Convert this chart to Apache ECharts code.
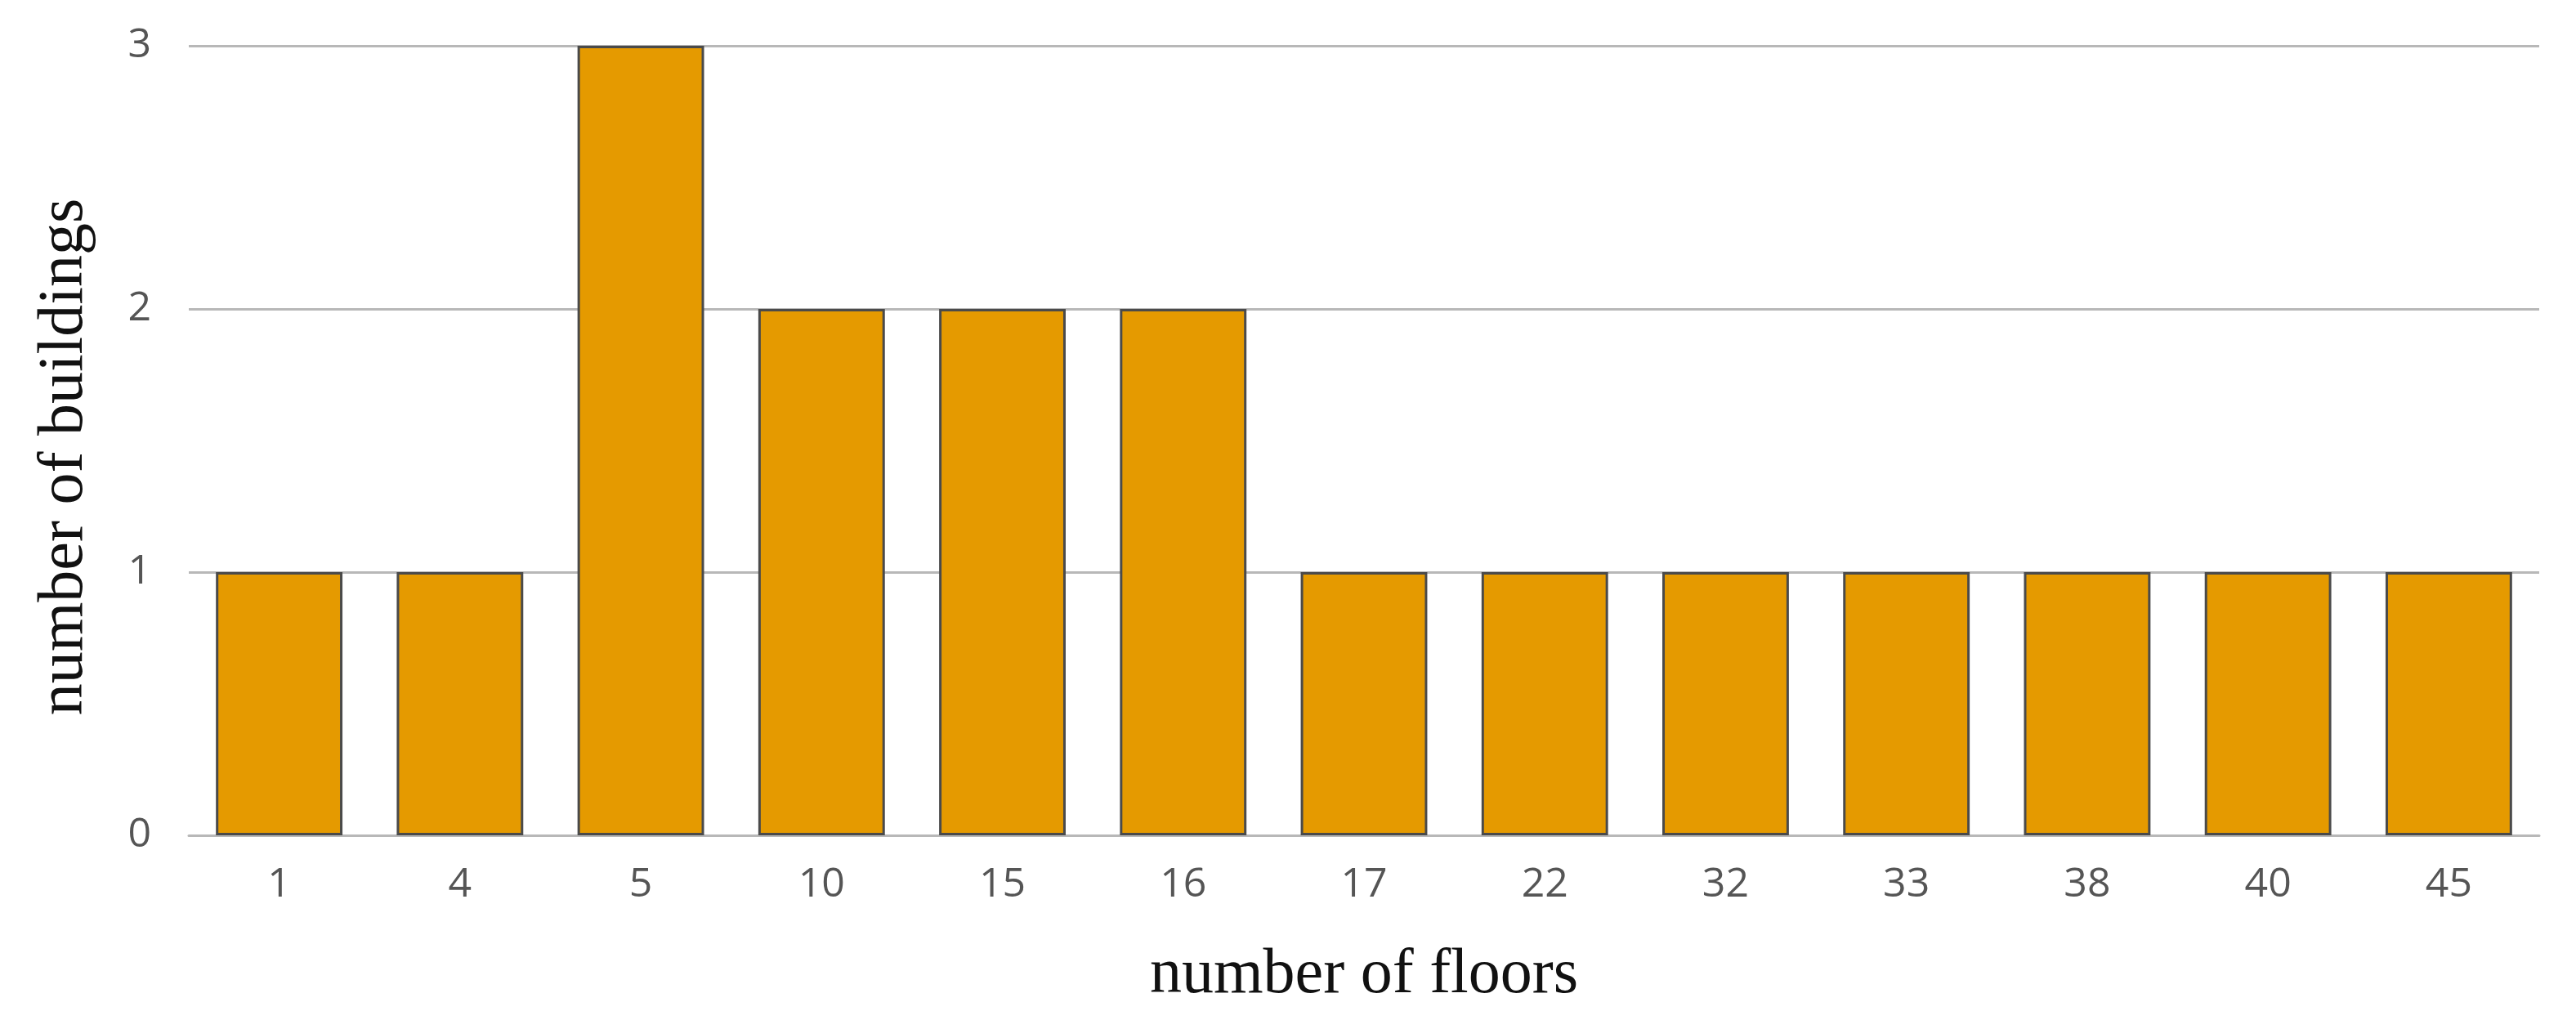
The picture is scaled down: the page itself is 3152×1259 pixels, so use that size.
<!DOCTYPE html>
<html>
<head>
<meta charset="utf-8">
<script src="https://cdn.jsdelivr.net/npm/echarts@6/dist/echarts.min.js"></script>
<style>
  html, body { margin: 0; padding: 0; background: #fff; }
  #chart { width: 3152px; height: 1259px; }
</style>
</head>
<body>
<div id="chart"></div>
<script>
// floors per building (categories) and how many buildings have that count
const floors = ['1', '4', '5', '10', '15', '16', '17', '22', '32', '33', '38', '40', '45'];
const buildings = [1, 1, 3, 2, 2, 2, 1, 1, 1, 1, 1, 1, 1];
const yTicks = [0, 1, 2, 3];

const labelFont = "'Liberation Sans Narrow', 'Open Sans', sans-serif";
const titleFont = "'Liberation Serif', serif";

const chart = echarts.init(document.getElementById('chart'));

chart.setOption({
    backgroundColor: '#fff',
    animation: false,
    grid: {
        left: 231,
        right: 45,
        top: 56,
        bottom: 237
    },
    xAxis: {
        type: 'category',
        data: floors,
        name: 'number of floors',
        nameLocation: 'middle',
        nameGap: 133,
        nameTextStyle: {
            fontFamily: titleFont,
            fontSize: 78,
            color: '#111'
        },
        axisLine: {
            lineStyle: { color: '#b8b8b8', width: 3 }
        },
        axisTick: {
            alignWithLabel: true,
            length: 11,
            lineStyle: { color: '#cfcfcf', width: 2 }
        },
        axisLabel: {
            fontFamily: labelFont,
            fontSize: 50,
            color: '#555',
            margin: 36
        }
    },
    yAxis: {
        type: 'value',
        min: yTicks[0],
        max: yTicks[yTicks.length - 1],
        interval: 1,
        name: 'number of buildings',
        nameLocation: 'middle',
        nameGap: 112,
        nameRotate: 90,
        nameTextStyle: {
            fontFamily: titleFont,
            fontSize: 78,
            color: '#111',
            padding: [0, 40, 0, 0]
        },
        axisLine: { show: false },
        axisTick: { show: false },
        splitLine: {
            lineStyle: { color: '#b8b8b8', width: 3 }
        },
        axisLabel: {
            fontFamily: labelFont,
            fontSize: 50,
            color: '#555',
            margin: 46
        }
    },
    series: [
        {
            type: 'bar',
            data: buildings,
            barWidth: '70%',
            itemStyle: {
                color: '#e59a00',
                borderColor: '#4a4a4a',
                borderWidth: 3
            }
        }
    ]
});
</script>
</body>
</html>
